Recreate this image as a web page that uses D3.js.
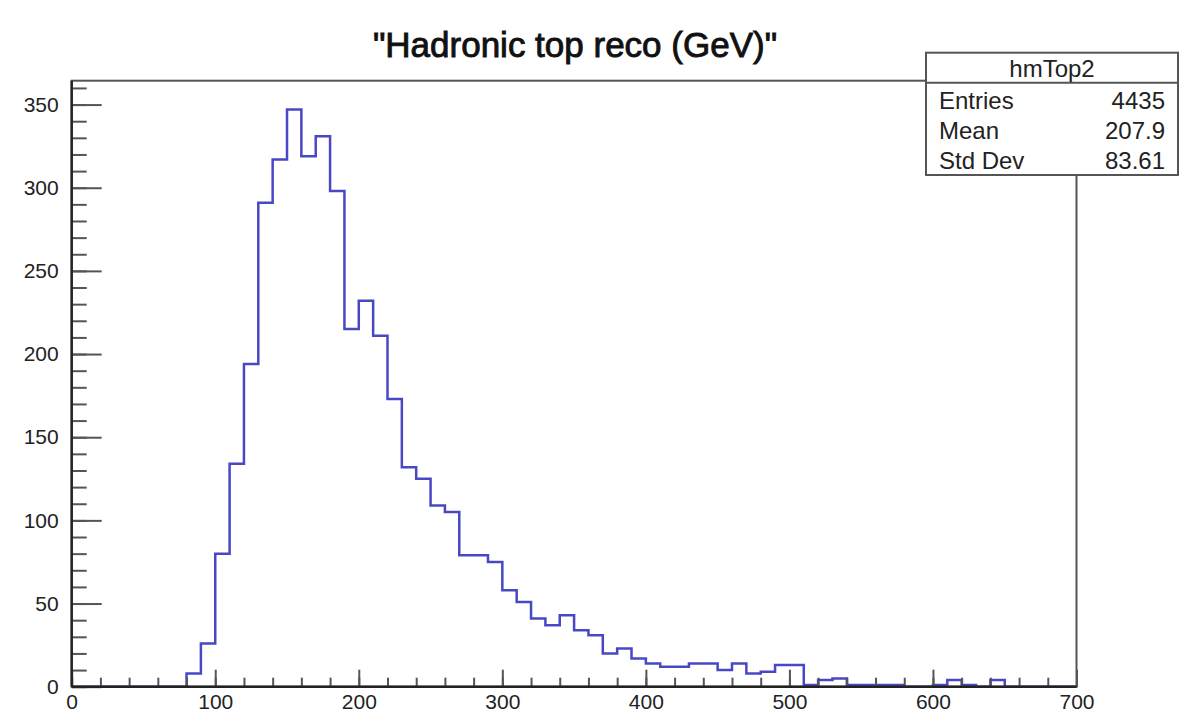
<!DOCTYPE html>
<html>
<head>
<meta charset="utf-8">
<script src="https://cdn.jsdelivr.net/npm/d3@7"></script>
<style>
  body { margin: 0; background: #fff; }
  text { font-family: "Liberation Sans", Arial, Helvetica, sans-serif; }
</style>
</head>
<body>
<div id="chart"></div>
<script>
// --- data ---
var binLow = 0, binWidth = 10, nBins = 70;
// counts per 10 GeV bin, 0..700
var counts = [
  0, 0, 0, 0, 0, 0, 0, 0, 8, 26,
  80, 134, 194, 291, 317, 347, 319, 331, 298, 215,
  232, 211, 173, 132, 125, 109, 105, 79, 79, 75,
  58, 51, 41, 37, 43, 34, 31, 20, 23, 17,
  14, 12, 12, 14, 14, 10, 14, 8, 9, 13,
  13, 1, 4, 5, 1, 1, 1, 1, 0, 0,
  1, 4, 1, 0, 4, 0, 0, 0, 0, 0
];
var xTicks = [0, 100, 200, 300, 400, 500, 600, 700];
var yTicks = [0, 50, 100, 150, 200, 250, 300, 350];
var statsLabels = ["Entries", "Mean", "Std Dev"];
var statsValues = ["4435", "207.9", "83.61"];
var histName = "hmTop2";
var title = "\"Hadronic top reco (GeV)\"";

// --- setup ---
var width = 1184, height = 711;
var frame = { left: 71.7, right: 1076.5, top: 80.7, bottom: 686.7 };

var svg = d3.select("#chart").append("svg")
  .attr("width", width)
  .attr("height", height);

var x = d3.scaleLinear().domain([0, 700]).range([frame.left, frame.right]);
var yMax = d3.max(counts) * 1.05;
var y = d3.scaleLinear().domain([0, yMax]).range([frame.bottom, frame.top]);

// frame (top/right)
svg.append("rect")
  .attr("x", frame.left).attr("y", frame.top)
  .attr("width", frame.right - frame.left)
  .attr("height", frame.bottom - frame.top)
  .attr("fill", "none")
  .attr("stroke", "#555")
  .attr("stroke-width", 2);

// --- histogram outline ---
var pts = counts.map(function(c, i) { return [binLow + i * binWidth, c]; });
pts.push([binLow + nBins * binWidth, counts[nBins - 1]]);

var line = d3.line()
  .x(function(d) { return x(d[0]); })
  .y(function(d) { return y(d[1]); })
  .curve(d3.curveStepAfter);

svg.append("path")
  .datum(pts)
  .attr("d", line)
  .attr("fill", "none")
  .attr("stroke", "#4848c4")
  .attr("stroke-width", 2.5)
  .attr("stroke-linejoin", "miter");

// --- axes ---
function styleAxis(g) {
  g.select(".domain").remove();
  g.selectAll(".tick line").attr("stroke", "#555").attr("stroke-width", 2);
  g.selectAll(".tick text")
    .attr("fill", "#222")
    .style("font-size", "21px");
}

var yMinor = d3.range(0, yMax, 10);
svg.append("g")
  .attr("transform", "translate(" + frame.left + ",0)")
  .call(d3.axisLeft(y).tickValues(yMinor).tickSize(-15).tickFormat(""))
  .call(styleAxis);
svg.append("g")
  .attr("transform", "translate(" + frame.left + ",0)")
  .call(d3.axisLeft(y).tickValues(yTicks).tickSize(-30).tickPadding(13))
  .call(styleAxis);

var xMinor = d3.range(0, 701, 20);
svg.append("g")
  .attr("transform", "translate(0," + frame.bottom + ")")
  .call(d3.axisBottom(x).tickValues(xMinor).tickSize(-9).tickFormat(""))
  .call(styleAxis);
svg.append("g")
  .attr("transform", "translate(0," + frame.bottom + ")")
  .call(d3.axisBottom(x).tickValues(xTicks).tickSize(-17).tickPadding(7))
  .call(styleAxis);

// axis lines on left and bottom, darker
svg.append("line")
  .attr("x1", frame.left).attr("x2", frame.left)
  .attr("y1", frame.top).attr("y2", frame.bottom)
  .attr("stroke", "#222").attr("stroke-width", 2.4);
svg.append("line")
  .attr("x1", frame.left).attr("x2", frame.right)
  .attr("y1", frame.bottom).attr("y2", frame.bottom)
  .attr("stroke", "#222").attr("stroke-width", 2.4);

// --- title ---
svg.append("text")
  .attr("x", 575).attr("y", 57)
  .attr("text-anchor", "middle")
  .attr("fill", "#111")
  .attr("stroke", "#111").attr("stroke-width", 0.9)
  .style("font-size", "35px")
  .text(title);

// --- stats box ---
var box = { x: 926, y: 52.7, w: 252, h: 122.3, head: 30 };
var sb = svg.append("g");
sb.append("rect")
  .attr("x", box.x).attr("y", box.y)
  .attr("width", box.w).attr("height", box.h)
  .attr("fill", "#fff")
  .attr("stroke", "#555").attr("stroke-width", 2);
sb.append("line")
  .attr("x1", box.x).attr("x2", box.x + box.w)
  .attr("y1", box.y + box.head).attr("y2", box.y + box.head)
  .attr("stroke", "#555").attr("stroke-width", 2);
sb.append("text")
  .attr("x", box.x + box.w / 2).attr("y", 76.5)
  .attr("text-anchor", "middle")
  .attr("fill", "#222")
  .style("font-size", "24px")
  .text(histName);

var rowY = d3.scaleLinear().domain([0, 2]).range([108.5, 168.5]);
sb.selectAll(".slabel")
  .data(statsLabels).enter().append("text")
  .attr("class", "slabel")
  .attr("x", box.x + 13)
  .attr("y", function(d, i) { return rowY(i); })
  .attr("fill", "#222")
  .style("font-size", "24px")
  .text(function(d) { return d; });
sb.selectAll(".svalue")
  .data(statsValues).enter().append("text")
  .attr("class", "svalue")
  .attr("x", box.x + box.w - 13)
  .attr("y", function(d, i) { return rowY(i); })
  .attr("text-anchor", "end")
  .attr("fill", "#222")
  .style("font-size", "24px")
  .text(function(d) { return d; });
</script>
</body>
</html>
